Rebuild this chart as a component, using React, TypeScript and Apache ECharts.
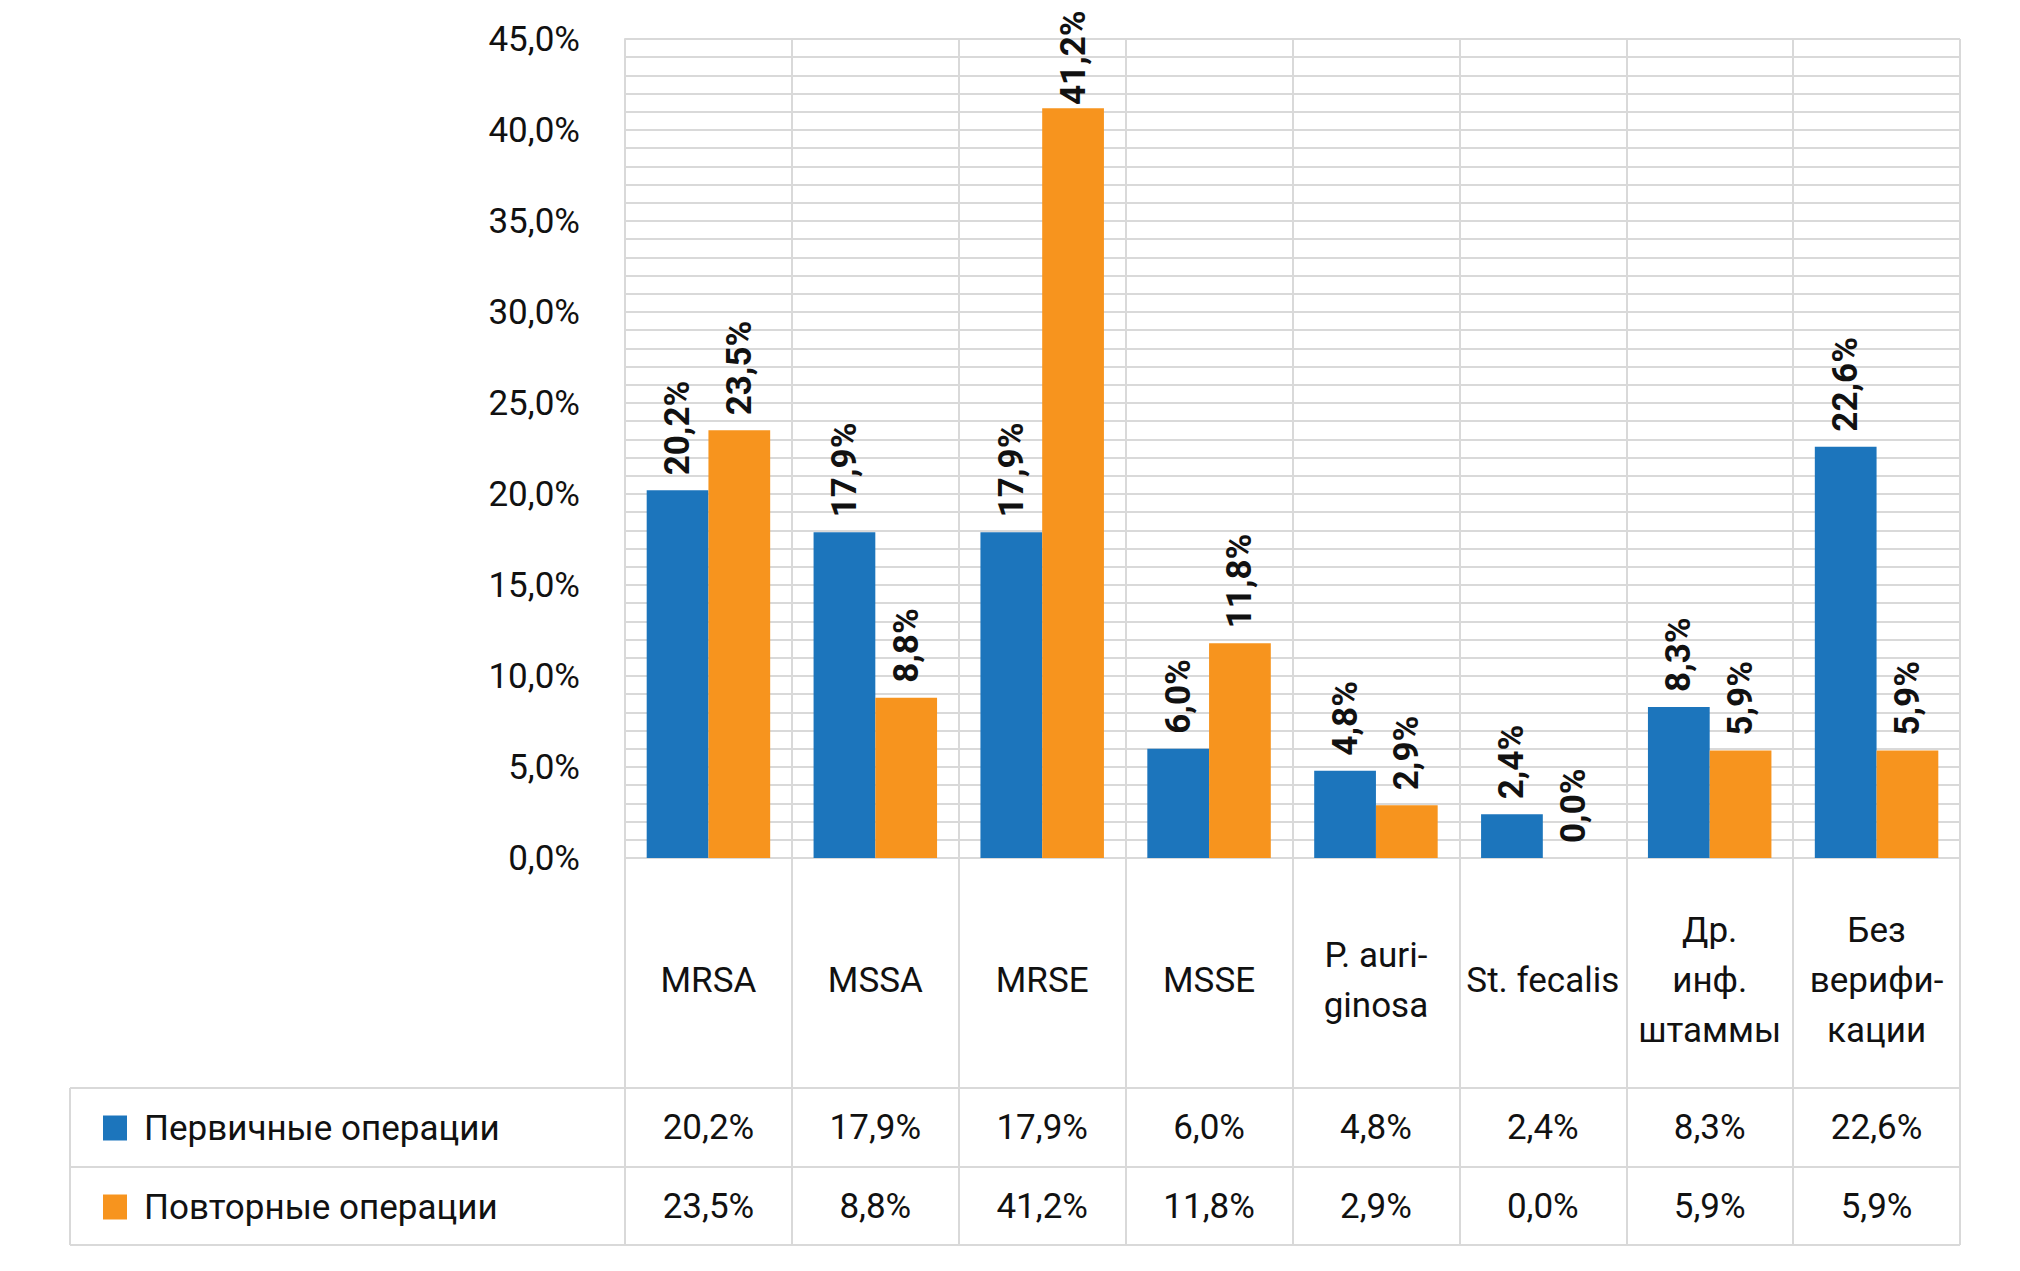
import React, { useEffect, useRef } from "react";
import * as echarts from "echarts";

const categories = [
  "MRSA",
  "MSSA",
  "MRSE",
  "MSSE",
  "P. auri-\nginosa",
  "St. fecalis",
  "Др.\nинф.\nштаммы",
  "Без\nверифи-\nкации",
];
const seriesNames = ["Первичные операции", "Повторные операции"];
const primaryValues = [20.2, 17.9, 17.9, 6.0, 4.8, 2.4, 8.3, 22.6];
const repeatValues = [23.5, 8.8, 41.2, 11.8, 2.9, 0.0, 5.9, 5.9];
const yMin = 0;
const yMax = 45;
const yInterval = 5;

const FONT = "Roboto, 'DejaVu Sans Condensed', sans-serif";
const FS = 35;
const LABEL_FS = 35;
const BLUE = "#1c75bc";
const ORANGE = "#f7941e";
const GRID_COLOR = "#d9d9d9";
const TEXT = "#111111";

const W = 2020;
const H = 1271;
const PLOT_LEFT = 625;
const PLOT_RIGHT = 1960;
const PLOT_TOP = 39;
const PLOT_BOTTOM = 858;
const TABLE_LEFT = 70;
const ROW1_TOP = 1088;
const ROW2_TOP = 1167;
const TABLE_BOTTOM = 1245;
const LABEL_DIST = 15;
const LABEL_LEN = 95;
const LABEL_MIN_TOP = 10;

const fmt = (v: number) => v.toFixed(1).replace(".", ",") + "%";

// keep labels inside the picture: shorten the distance for bars near the top
const barData = (values: number[]) =>
  values.map((v) => {
    const topPx =
      PLOT_BOTTOM - ((v - yMin) / (yMax - yMin)) * (PLOT_BOTTOM - PLOT_TOP);
    const room = topPx - LABEL_LEN - LABEL_MIN_TOP;
    if (room < LABEL_DIST) {
      return { value: v, label: { distance: Math.max(0, room) } };
    }
    return v;
  });

export default function App() {
  const ref = useRef<HTMLDivElement>(null);
  useEffect(() => {
    if (!ref.current) return;
    const chart = echarts.init(ref.current, null, { renderer: "svg" });
    const hLine = (y: number) => ({
      type: "line",
      shape: { x1: TABLE_LEFT, y1: y, x2: PLOT_RIGHT, y2: y },
      style: { stroke: GRID_COLOR, lineWidth: 2 },
      silent: true,
    });
    const labelStyle = {
      show: true,
      position: "top",
      rotate: 90,
      align: "left",
      verticalAlign: "middle",
      distance: LABEL_DIST,
      formatter: (p: any) => fmt(p.value),
      fontFamily: FONT,
      fontSize: LABEL_FS,
      fontWeight: "bold",
      color: TEXT,
    };
    chart.setOption({
      animation: false,
      backgroundColor: "#ffffff",
      textStyle: { fontFamily: FONT },
      grid: {
        left: PLOT_LEFT,
        right: W - PLOT_RIGHT,
        top: PLOT_TOP,
        bottom: H - PLOT_BOTTOM,
        containLabel: false,
      },
      legend: {
        show: true,
        orient: "vertical",
        left: 98,
        top: 1104,
        itemGap: 41,
        itemWidth: 24,
        itemHeight: 25,
        icon: "rect",
        selectedMode: false,
        data: seriesNames,
        textStyle: {
          fontFamily: FONT,
          fontSize: FS,
          lineHeight: 38,
          color: TEXT,
          padding: [0, 0, 0, 12],
        },
      },
      xAxis: [
        {
          type: "category",
          data: categories,
          boundaryGap: true,
          axisLine: { show: false },
          axisTick: {
            show: true,
            interval: 0,
            alignWithLabel: false,
            length: TABLE_BOTTOM - PLOT_BOTTOM,
            lineStyle: { color: GRID_COLOR, width: 2 },
          },
          splitLine: {
            show: true,
            interval: 0,
            lineStyle: { color: GRID_COLOR, width: 2 },
          },
          axisLabel: {
            show: true,
            interval: 0,
            margin: 122,
            verticalAlign: "middle",
            align: "center",
            fontFamily: FONT,
            fontSize: FS,
            lineHeight: 50,
            color: TEXT,
          },
        },
        {
          type: "category",
          data: categories,
          position: "bottom",
          axisLine: { show: false },
          axisTick: { show: false },
          splitLine: { show: false },
          axisLabel: {
            show: true,
            interval: 0,
            margin: (ROW1_TOP + ROW2_TOP) / 2 - PLOT_BOTTOM,
            verticalAlign: "middle",
            align: "center",
            fontFamily: FONT,
            fontSize: FS,
            color: TEXT,
            formatter: (_v: string, i: number) => fmt(primaryValues[i]),
          },
        },
        {
          type: "category",
          data: categories,
          position: "bottom",
          axisLine: { show: false },
          axisTick: { show: false },
          splitLine: { show: false },
          axisLabel: {
            show: true,
            interval: 0,
            margin: (ROW2_TOP + TABLE_BOTTOM) / 2 - PLOT_BOTTOM,
            verticalAlign: "middle",
            align: "center",
            fontFamily: FONT,
            fontSize: FS,
            color: TEXT,
            formatter: (_v: string, i: number) => fmt(repeatValues[i]),
          },
        },
      ],
      yAxis: {
        type: "value",
        min: yMin,
        max: yMax,
        interval: yInterval,
        axisLine: { show: true, lineStyle: { color: GRID_COLOR, width: 2 } },
        axisTick: { show: false },
        splitLine: { show: true, lineStyle: { color: GRID_COLOR, width: 2 } },
        minorTick: { show: false, splitNumber: 5 },
        minorSplitLine: { show: true, lineStyle: { color: GRID_COLOR, width: 2 } },
        axisLabel: {
          margin: 45,
          fontFamily: FONT,
          fontSize: FS,
          color: TEXT,
          formatter: (v: number) => fmt(v),
        },
      },
      series: [
        {
          name: seriesNames[0],
          type: "bar",
          data: barData(primaryValues),
          barGap: "0%",
          barCategoryGap: "26%",
          itemStyle: { color: BLUE },
          label: labelStyle,
        },
        {
          name: seriesNames[1],
          type: "bar",
          data: barData(repeatValues),
          barGap: "0%",
          barCategoryGap: "26%",
          itemStyle: { color: ORANGE },
          label: labelStyle,
        },
      ],
      graphic: [
        hLine(ROW1_TOP),
        hLine(ROW2_TOP),
        hLine(TABLE_BOTTOM),
        {
          type: "line",
          shape: { x1: TABLE_LEFT, y1: ROW1_TOP, x2: TABLE_LEFT, y2: TABLE_BOTTOM },
          style: { stroke: GRID_COLOR, lineWidth: 2 },
          silent: true,
        },
      ],
    });
    return () => chart.dispose();
  }, []);
  return (
    <div
      ref={ref}
      style={{ position: "absolute", left: 0, top: 0, width: W, height: H, background: "#fff" }}
    />
  );
}
